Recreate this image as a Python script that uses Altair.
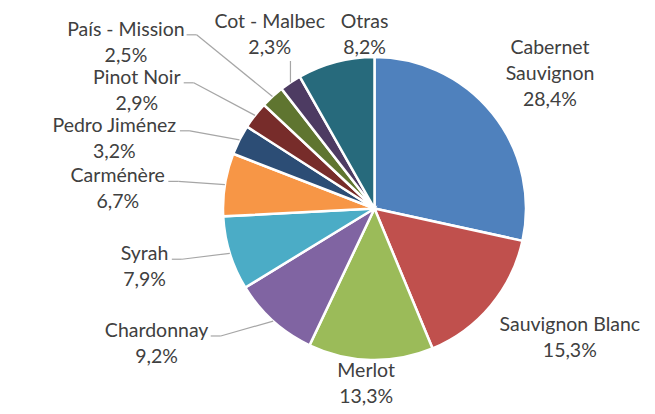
import math
import altair as alt
import pandas as pd

# ---------------- data ----------------
categories = ["Cabernet Sauvignon", "Sauvignon Blanc", "Merlot", "Chardonnay", "Syrah",
              "Carménère", "Pedro Jiménez", "Pinot Noir", "País - Mission", "Cot - Malbec", "Otras"]
shares = [28.4, 15.3, 13.3, 9.2, 7.9, 6.7, 3.2, 2.9, 2.5, 2.3, 8.2]
colors = ["#4F81BD", "#C0504D", "#9BBB59", "#8064A2", "#4BACC6", "#F79646",
          "#2C4D75", "#772C2A", "#5F7530", "#4D3B62", "#276A7C"]

# ---------------- layout ----------------
ORIGIN = 8            # page margin
W, H = 639, 398       # chart size
CX, CY, R = 374.5, 208.5, 151.5   # pie centre / radius in page pixels
FONT = "Lato"
FS = 19.5
LH = 26
TEXT_COLOR = "#404040"
LINE_COLOR = "#A6A6A6"
TOP_B1 = 28           # first baseline may not go higher (keeps text inside the svg)
BOTTOM_BL = 404

EM = {"i": .23, "l": .23, "í": .23, "j": .23, "r": .36, "t": .35, "f": .32, "m": .82,
      "w": .75, "s": .42, "c": .46, "y": .5, "v": .5, "a": .49, "o": .55,
      "M": .85, "J": .38, "P": .6, "S": .52, "B": .63, "N": .75, "O": .78, "C": .667,
      ",": .23, "%": .75, " ": .26, "-": .33}


def text_w(s):
    tot = 0
    for ch in s:
        if ch in EM:
            tot += EM[ch]
        elif ch.isdigit():
            tot += .58
        elif ch.isupper():
            tot += .66
        else:
            tot += .52
    return tot * FS


def label_lines(name, v):
    pct = f"{v:.1f}%".replace(".", ",")
    parts = name.split(" ") if len(name) > 16 else [name]
    return parts + [pct]


total = sum(shares)
cum = 0.0
items = []
for i, (name, v) in enumerate(zip(categories, shares)):
    mid = (cum + v / 2) / total * 360
    cum += v
    th = math.radians(mid)
    ux, uy = math.sin(th), -math.cos(th)
    ax, ay = CX + R * ux, CY + R * uy
    lines = label_lines(name, v)
    w = max(text_w(s) for s in lines)
    n = len(lines)
    if v < 10 and 200 < mid < 340:
        kind = "top" if mid >= 320 else "left"
    else:
        kind = "radial"
    items.append(dict(i=i, mid=mid, ux=ux, uy=uy, ax=ax, ay=ay, lines=lines,
                      w=w, n=n, kind=kind))

# radial labels (outside end, larger gap on the diagonals)
for it in items:
    if it["kind"] != "radial":
        continue
    ux, uy = it["ux"], it["uy"]
    G = 4 + 44 * abs(ux * uy)
    sx = math.copysign(math.sqrt(abs(ux)), ux)
    sy = math.copysign(math.sqrt(abs(uy)), uy)
    hbox = (it["n"] - 1) * LH + 10
    cxl = CX + (R + G) * ux + sx * it["w"] / 2
    cyl = CY + (R + G) * uy + sy * hbox / 2
    it["cx"] = cxl
    it["b1"] = cyl - (it["n"] - 1) * LH / 2 + 7
    it["leader"] = []

# left callouts, stacked bottom-up
left = sorted([it for it in items if it["kind"] == "left"], key=lambda d: -d["ay"])
prev = None
for it in left:
    ly = CY + (R + 20) * it["uy"]
    if prev is not None:
        ly = min(ly, prev - 48)
    prev = ly
    attach = it["ax"] - 55 - 0.5 * abs(it["ay"] - ly)
    it["cx"] = attach - 4 - it["w"] / 2
    it["b1"] = ly + 1
    it["leader"] = [(attach, ly, attach + 10, ly), (attach + 10, ly, it["ax"], it["ay"])]

# top callouts
for it in items:
    if it["kind"] != "top":
        continue
    it["b1"] = it["ay"] - 62
    it["cx"] = it["ax"] + it["ux"] * it["w"] / 2 * 0.7

# keep every label inside the drawing area
for it in items:
    it["b1"] = max(it["b1"], TOP_B1)
    it["b1"] = min(it["b1"], BOTTOM_BL - (it["n"] - 1) * LH)

for it in items:
    if it["kind"] == "top":
        ybot = it["b1"] + (it["n"] - 1) * LH + 7
        it["leader"] = [(it["ax"], ybot, it["ax"], it["ay"])]


def box(it):
    return (it["cx"] - it["w"] / 2, it["cx"] + it["w"] / 2,
            it["b1"] - 15, it["b1"] + (it["n"] - 1) * LH + 5)


# resolve overlaps in the upper half by pushing to the right
upper = sorted([it for it in items if it["ay"] < CY], key=lambda d: d["cx"])
for a in range(len(upper)):
    for b in range(a + 1, len(upper)):
        A, B = box(upper[a]), box(upper[b])
        if A[1] + 4 > B[0] and A[3] > B[2] and B[3] > A[2]:
            upper[b]["cx"] += (A[1] + 18) - B[0]

# ---------------- tables ----------------
slices = pd.DataFrame({"category": categories, "share": shares,
                       "order": list(range(len(categories)))})

txt_rows = []
for it in items:
    for k, s in enumerate(it["lines"]):
        txt_rows.append({"x": it["cx"], "y": it["b1"] + k * LH, "text": s})
texts = pd.DataFrame(txt_rows)

seg_rows = []
for it in items:
    for (x1, y1, x2, y2) in it["leader"]:
        seg_rows.append({"x": x1, "y": y1, "x2": x2, "y2": y2})
segs = pd.DataFrame(seg_rows)

xs = alt.Scale(domain=[ORIGIN, ORIGIN + W], nice=False, zero=False)
ys = alt.Scale(domain=[ORIGIN, ORIGIN + H], nice=False, zero=False, reverse=True)

pie = alt.Chart(slices).mark_arc(outerRadius=R, stroke="white", strokeWidth=2.5).encode(
    theta=alt.Theta("share:Q", stack=True),
    color=alt.Color("category:N", scale=alt.Scale(domain=categories, range=colors), legend=None),
    order=alt.Order("order:Q"),
    x=alt.value(CX - ORIGIN),
    y=alt.value(CY - ORIGIN),
)

leaders = alt.Chart(segs).mark_rule(color=LINE_COLOR, strokeWidth=1.2).encode(
    x=alt.X("x:Q", scale=xs, axis=None),
    y=alt.Y("y:Q", scale=ys, axis=None),
    x2="x2:Q",
    y2="y2:Q",
)

labels = alt.Chart(texts).mark_text(font=FONT, fontSize=FS, color=TEXT_COLOR,
                                    align="center", baseline="alphabetic").encode(
    x=alt.X("x:Q", scale=xs, axis=None),
    y=alt.Y("y:Q", scale=ys, axis=None),
    text="text:N",
)

chart = alt.layer(pie, leaders, labels).properties(
    width=W, height=H, padding=0, autosize=alt.AutoSizeParams(type="none")
).configure_view(stroke=None)

chart.save("out.html", embed_options={"renderer": "svg", "actions": False})
